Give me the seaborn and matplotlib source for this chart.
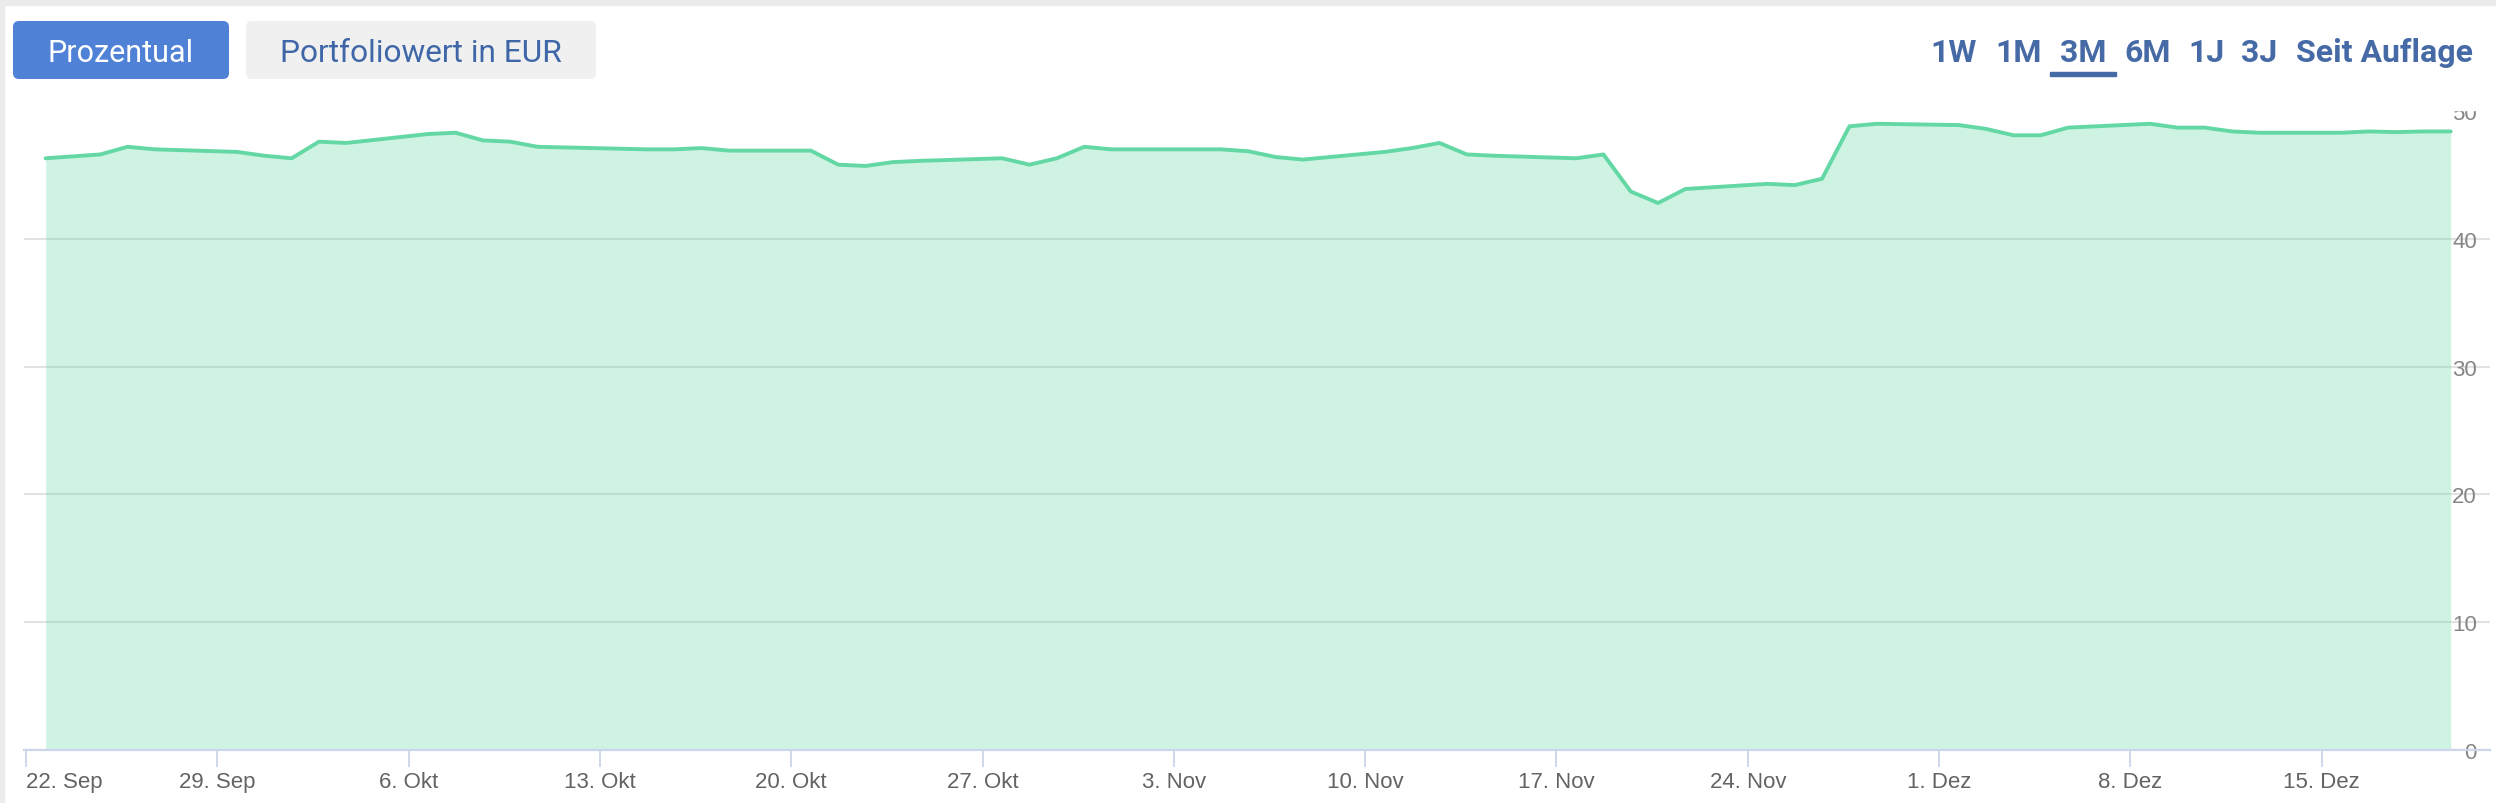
import matplotlib
matplotlib.use("Agg")
import numpy as np
import pandas as pd
import matplotlib.pyplot as plt
import seaborn as sns
from matplotlib.patches import FancyBboxPatch, Rectangle
from matplotlib.transforms import IdentityTransform

# ---------------- data ----------------
dates = pd.bdate_range("2025-09-22", "2025-12-19") + pd.Timedelta(hours=17, minutes=15)
values = [
    46.3, 46.45, 46.6, 47.2, 47.0,      # 22.-26. Sep
    46.8, 46.5, 46.3, 47.6, 47.5,       # 29. Sep - 3. Okt
    48.2, 48.3, 47.7, 47.6, 47.2,       # 6.-10. Okt
    47.05, 47.0, 47.0, 47.1, 46.9,      # 13.-17. Okt
    46.9, 45.8, 45.7, 46.0, 46.1,       # 20.-24. Okt
    46.3, 45.8, 46.3, 47.2, 47.0,       # 27.-31. Okt
    47.0, 47.0, 46.85, 46.4, 46.2,      # 3.-7. Nov
    46.8, 47.1, 47.5, 46.6, 46.5,       # 10.-14. Nov
    46.3, 46.6, 43.7, 42.8, 43.9,       # 17.-21. Nov
    44.3, 44.2, 44.7, 48.8, 49.0,       # 24.-28. Nov
    48.9, 48.6, 48.1, 48.1, 48.7,       # 1.-5. Dez
    49.0, 48.7, 48.7, 48.4, 48.3,       # 8.-12. Dez
    48.3, 48.4, 48.35, 48.4, 48.4,      # 15.-19. Dez
]
y_ticks = [0, 10, 20, 30, 40, 50]
x_tick_dates = pd.date_range("2025-09-22", "2025-12-15", freq="7D")
x_tick_labels = ["22. Sep", "29. Sep", "6. Okt", "13. Okt", "20. Okt", "27. Okt",
                 "3. Nov", "10. Nov", "17. Nov", "24. Nov", "1. Dez", "8. Dez", "15. Dez"]
mode_buttons = ["Prozentual", "Portfoliowert in EUR"]
range_buttons = ["1W", "1M", "3M", "6M", "1J", "3J", "Seit Auflage"]
active_range = "3M"

# ---------------- style ----------------
W, H = 2496, 804
sns.set_theme(style="white")
plt.rcParams["font.family"] = ["Liberation Sans", "DejaVu Sans"]

LINE = "#63d8a4"
AXIS = "#ccd6eb"
BLUE_TXT = "#456aa6"

fig = plt.figure(figsize=(W / 100, H / 100), dpi=100)
fig.patch.set_facecolor("white")


def fx(px):
    return px / W


def fy(py):
    return 1 - py / H


ax = fig.add_axes([fx(24), fy(751), fx(2490) - fx(24), fy(112) - fy(751)])
ax.set_facecolor("white")

df = pd.DataFrame({"date": dates, "value": values})
ax.fill_between(df["date"], 0, df["value"], color=LINE, alpha=0.30, lw=0, zorder=2)
sns.lineplot(data=df, x="date", y="value", color=LINE, lw=2.8, ax=ax, zorder=3)

# x scale
px_per_day = 27.33
t0 = pd.Timestamp("2025-09-22")
ax.set_xlim(t0 - pd.Timedelta(days=2 / px_per_day), t0 + pd.Timedelta(days=(2490 - 26) / px_per_day))
ax.set_ylim(0, 50)

ax.set_xticks(x_tick_dates)
ax.set_xticklabels(x_tick_labels)
ax.tick_params(axis="x", bottom=True, length=12, width=1.3, color=AXIS, labelcolor="#636363",
               labelsize=16, pad=3, direction="out")
ax.get_xticklabels()[0].set_ha("left")

ax.yaxis.tick_right()
ax.set_yticks(y_ticks)
ax.set_yticklabels([str(v) for v in y_ticks])
ax.tick_params(axis="y", right=False, left=False, labelright=True, labelleft=False,
               length=0, pad=-9.5, labelsize=16, labelcolor="#858585")
for lbl in ax.get_yticklabels():
    lbl.set_ha("right")

ax.grid(axis="y", color="#e2e2e2", lw=1.5)
ax.grid(axis="x", visible=False)
ax.set_axisbelow(True)
ax.yaxis.get_gridlines()[-1].set_visible(False)

for s in ["top", "left", "right"]:
    ax.spines[s].set_visible(False)
ax.spines["bottom"].set_color(AXIS)
ax.spines["bottom"].set_linewidth(1.6)
ax.set_xlabel("")
ax.set_ylabel("")
legend = ax.get_legend()
if legend:
    legend.remove()

# ---------------- header overlay ----------------
ident = IdentityTransform()
fig.patches.append(Rectangle((0, H - 111), W, 111, transform=ident, color="white", zorder=5))
fig.patches.append(Rectangle((0, H - 6), W, 6, transform=ident, color="#ebebeb", zorder=6))
fig.patches.append(Rectangle((0, 0), 4, H, transform=ident, color="#ebebeb", zorder=6))

# mode buttons
btn_boxes = [(13, 229, "#4f81d6", "white", 22), (246, 596, "#f0f0f0", "#3f67a8", 22.8)]
for label, (x0, x1, fc, tc, fs) in zip(mode_buttons, btn_boxes):
    fig.patches.append(FancyBboxPatch((x0, H - 80), x1 - x0, 58,
                                      boxstyle="round,pad=0,rounding_size=6",
                                      transform=ident, fc=fc, ec="none", zorder=7))
    fig.text((x0 + x1) / 2, H - 62, label, transform=ident, ha="center", va="baseline",
             color=tc, fontsize=fs, family=["Roboto", "DejaVu Sans"], zorder=8)

# range selector
range_centers = [1954, 2018.5, 2083, 2148, 2206.5, 2259.5, 2385]
for label, cx in zip(range_buttons, range_centers):
    fig.text(cx, H - 62, label, transform=ident, ha="center", va="baseline",
             color=BLUE_TXT, fontsize=23, fontweight="bold",
             family=["Roboto", "DejaVu Sans"], zorder=8)
    if label == active_range:
        fig.patches.append(Rectangle((cx - 33, H - 77), 66, 4, transform=ident,
                                     color=BLUE_TXT, zorder=8))

fig.savefig("out.png", dpi=100)
